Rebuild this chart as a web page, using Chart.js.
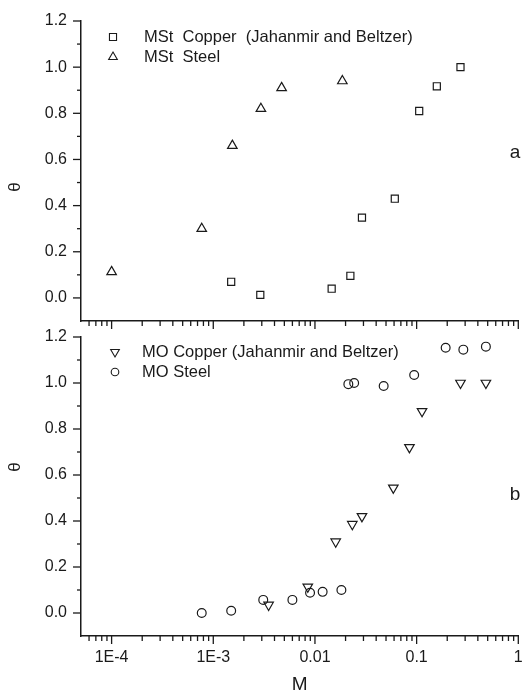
<!DOCTYPE html>
<html><head><meta charset="utf-8">
<script src="https://cdn.jsdelivr.net/npm/chart.js@4.4.1/dist/chart.umd.min.js"></script>
<style>
html,body{margin:0;padding:0;background:#fff;}
#wrap{position:relative;width:525px;height:700px;background:#fff;}
canvas{position:absolute;left:0;}
#c1{top:0;}
#c2{top:322px;}
</style></head><body>
<div id="wrap"><canvas id="c1" width="525" height="335"></canvas><canvas id="c2" width="525" height="378"></canvas></div>
<script>
// ---- data ----
const mstCopperM     = [1.5e-3, 2.9e-3, 0.0146, 0.0223, 0.029, 0.061, 0.106, 0.158, 0.27];
const mstCopperTheta = [0.07, 0.013, 0.04, 0.096, 0.348, 0.43, 0.81, 0.917, 1.0];
const mstSteelM      = [1e-4, 7.7e-4, 1.54e-3, 2.94e-3, 4.7e-3, 0.0186];
const mstSteelTheta  = [0.113, 0.30, 0.66, 0.82, 0.91, 0.94];
const moCopperM      = [3.5e-3, 8.5e-3, 0.016, 0.0233, 0.029, 0.059, 0.085, 0.113, 0.27, 0.48];
const moCopperTheta  = [0.035, 0.114, 0.31, 0.386, 0.42, 0.544, 0.72, 0.877, 1.0, 1.0];
const moSteelM       = [7.7e-4, 1.5e-3, 3.1e-3, 6.0e-3, 8.95e-3, 0.0119, 0.0182, 0.0213, 0.0243, 0.0474, 0.0946, 0.193, 0.288, 0.48];
const moSteelTheta   = [0.0, 0.01, 0.057, 0.057, 0.088, 0.092, 0.10, 0.995, 1.0, 0.987, 1.035, 1.153, 1.145, 1.158];

const xTickValues = [1e-4, 1e-3, 1e-2, 1e-1, 1];
const xTickLabels = ['1E-4', '1E-3', '0.01', '0.1', '1'];
const yTickValues = [0, 0.2, 0.4, 0.6, 0.8, 1.0, 1.2];
const yTickLabels = ['0.0', '0.2', '0.4', '0.6', '0.8', '1.0', '1.2'];
const yMinorValues = [0.1, 0.3, 0.5, 0.7, 0.9, 1.1];
const topLegend = ['MSt  Copper  (Jahanmir and Beltzer)', 'MSt  Steel'];
const bottomLegend = ['MO Copper (Jahanmir and Beltzer)', 'MO Steel'];

const X_MIN = 5e-5, X_MAX = 1, Y_MIN = -0.1, Y_MAX = 1.2;
const FONT = '"Liberation Sans", Arial, Helvetica, sans-serif';
const INK = '#1a1a1a';

// minor ticks of the log axis (2..9 per decade)
const xMinorValues = [];
[1e-5, 1e-4, 1e-3, 1e-2, 1e-1].forEach(d => {
  for (let m = 2; m <= 9; m++) { const v = m * d; if (v > X_MIN * 1.0001 && v < X_MAX) xMinorValues.push(v); }
});

const pts = (xs, ys) => xs.map((x, i) => ({x: x, y: ys[i]}));

Chart.defaults.font.family = FONT;
Chart.defaults.color = INK;
Chart.defaults.animation = false;

function drawSymbol(ctx, style, x, y, r) {
  ctx.save();
  ctx.strokeStyle = INK; ctx.fillStyle = '#fff'; ctx.lineWidth = 1.1;
  ctx.beginPath();
  if (style === 'rect') {
    const s = r * Math.SQRT1_2; ctx.rect(x - s, y - s, 2 * s, 2 * s);
  } else if (style === 'up' || style === 'down') {
    const sgn = style === 'up' ? 1 : -1;
    for (let k = 0; k < 3; k++) {
      const a = k * 2 * Math.PI / 3;
      const px = x + Math.sin(a) * r, py = y - sgn * Math.cos(a) * r;
      if (k === 0) ctx.moveTo(px, py); else ctx.lineTo(px, py);
    }
    ctx.closePath();
  } else {
    ctx.arc(x, y, r, 0, Math.PI * 2);
  }
  ctx.fill(); ctx.stroke();
  ctx.restore();
}

function decorPlugin(cfg) {
  return {
    id: 'decor',
    afterDraw(chart) {
      const ctx = chart.ctx, xs = chart.scales.x, ys = chart.scales.y, a = chart.chartArea;
      ctx.save();
      ctx.strokeStyle = INK; ctx.lineWidth = 1.3;
      // x ticks (outward, below)
      xTickValues.forEach(v => { const p = xs.getPixelForValue(v); ctx.beginPath(); ctx.moveTo(p, a.bottom); ctx.lineTo(p, a.bottom + 8); ctx.stroke(); });
      xMinorValues.forEach(v => { const p = xs.getPixelForValue(v); ctx.beginPath(); ctx.moveTo(p, a.bottom); ctx.lineTo(p, a.bottom + 5); ctx.stroke(); });
      // y ticks (outward, left)
      yTickValues.forEach(v => { const p = ys.getPixelForValue(v); ctx.beginPath(); ctx.moveTo(a.left, p); ctx.lineTo(a.left - 8, p); ctx.stroke(); });
      yMinorValues.forEach(v => { const p = ys.getPixelForValue(v); ctx.beginPath(); ctx.moveTo(a.left, p); ctx.lineTo(a.left - 4, p); ctx.stroke(); });
      // legend inside plot
      ctx.fillStyle = INK; ctx.font = '16.5px ' + FONT; ctx.textBaseline = 'middle'; ctx.textAlign = 'left';
      cfg.legend.forEach((t, i) => {
        const y = cfg.legendY + i * 20;
        drawSymbol(ctx, cfg.legendStyles[i], cfg.legendSymX, y, cfg.legendR[i]);
        ctx.fillText(t, cfg.legendTextX, y);
      });
      // panel letter
      ctx.font = '19px ' + FONT; ctx.textAlign = 'center';
      ctx.fillText(cfg.letter, 515, cfg.letterY);
      // y title (rotated theta)
      ctx.save();
      ctx.translate(15, cfg.thetaY); ctx.rotate(-Math.PI / 2);
      ctx.font = '17px ' + FONT; ctx.textAlign = 'center'; ctx.textBaseline = 'middle';
      ctx.fillText('\u03b8', 0, 0);
      ctx.restore();
      ctx.restore();
    }
  };
}

function makeChart(canvasId, datasets, opts) {
  return new Chart(document.getElementById(canvasId), {
    type: 'scatter',
    data: { datasets: datasets },
    options: {
      responsive: false,
      animation: false,
      layout: { padding: { top: opts.padTop, right: 2, left: 0, bottom: 0 } },
      plugins: { legend: { display: false }, tooltip: { enabled: false } },
      scales: {
        x: {
          type: 'logarithmic', min: X_MIN, max: X_MAX,
          grid: { display: false, drawTicks: true, tickLength: 8 },
          border: { display: true, color: INK, width: 1.5 },
          afterBuildTicks: s => { s.ticks = xTickValues.map(v => ({ value: v })); },
          ticks: {
            display: opts.showXLabels, autoSkip: false, maxRotation: 0, minRotation: 0, padding: 4,
            font: { size: 16 }, color: INK,
            callback: (v) => { const i = xTickValues.findIndex(t => Math.abs(t - v) / t < 1e-6); return i >= 0 ? xTickLabels[i] : ''; }
          },
          title: { display: opts.showXLabels, text: 'M', font: { size: 19 }, color: INK, padding: { top: 0, bottom: 4 } },
          afterFit: s => { s.height = opts.xHeight; s.paddingLeft = 0; s.paddingRight = 0; }
        },
        y: {
          min: Y_MIN, max: Y_MAX,
          grid: { display: false, drawTicks: true, tickLength: 8 },
          border: { display: true, color: INK, width: 1.5 },
          afterBuildTicks: s => { s.ticks = yTickValues.map(v => ({ value: v })); },
          ticks: {
            padding: 6, font: { size: 16 }, color: INK,
            callback: (v) => { const i = yTickValues.findIndex(t => Math.abs(t - v) < 1e-6); return i >= 0 ? yTickLabels[i] : ''; }
          },
          afterFit: s => { s.width = 81; s.paddingTop = 0; s.paddingBottom = 0; }
        }
      }
    },
    plugins: [decorPlugin(opts)]
  });
}

const markerBase = { backgroundColor: 'rgba(255,255,255,0)', borderColor: INK, pointBorderWidth: 1.2, showLine: false };

makeChart('c1', [
  Object.assign({ label: topLegend[0], data: pts(mstCopperM, mstCopperTheta), pointStyle: 'rect', pointRadius: 5 }, markerBase),
  Object.assign({ label: topLegend[1], data: pts(mstSteelM, mstSteelTheta), pointStyle: 'triangle', pointRadius: 5.5 }, markerBase)
], { padTop: 21, xHeight: 14, showXLabels: false, legend: topLegend, legendStyles: ['rect', 'up'],
     legendR: [5, 5], legendY: 37, legendSymX: 113, legendTextX: 144, letter: 'a', letterY: 153, thetaY: 187 });

makeChart('c2', [
  Object.assign({ label: bottomLegend[0], data: pts(moCopperM, moCopperTheta), pointStyle: 'triangle', rotation: 180, pointRadius: 5.5 }, markerBase),
  Object.assign({ label: bottomLegend[1], data: pts(moSteelM, moSteelTheta), pointStyle: 'circle', pointRadius: 4.4 }, markerBase)
], { padTop: 15, xHeight: 64, showXLabels: true, legend: bottomLegend, legendStyles: ['down', 'circle'],
     legendR: [5, 3.8], legendY: 30, legendSymX: 115, legendTextX: 142, letter: 'b', letterY: 173, thetaY: 145 });
</script>
</body></html>
